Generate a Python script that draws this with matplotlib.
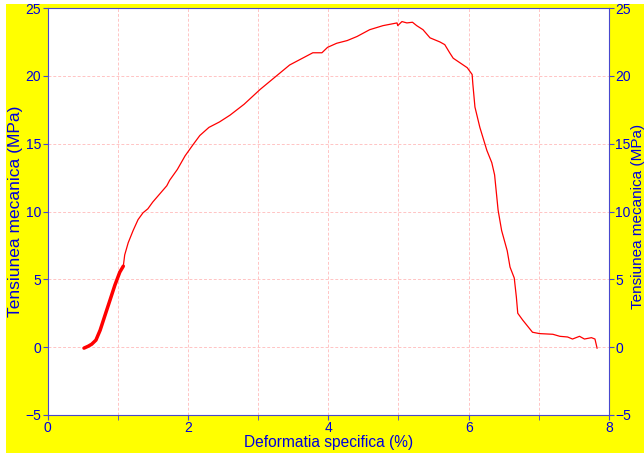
import matplotlib.pyplot as plt
from matplotlib.ticker import MultipleLocator

# first loading portion (drawn thick)
strain_a = [0.52, 0.55, 0.58, 0.63, 0.69, 0.75, 0.82, 0.89, 0.96, 1.03, 1.08]
stress_a = [-0.07, 0.0, 0.07, 0.22, 0.52, 1.25, 2.36, 3.46, 4.57, 5.53, 5.97]

# rest of the test
strain_b = [1.08, 1.1, 1.15, 1.22, 1.29, 1.36, 1.43, 1.5, 1.6, 1.7, 1.74, 1.85,
            1.96, 2.07, 2.17, 2.3, 2.45, 2.6, 2.8, 3.03, 3.24, 3.45, 3.67, 3.78,
            3.91, 3.99, 4.12, 4.27, 4.41, 4.59, 4.78, 4.98, 4.99, 5.05, 5.12, 5.2,
            5.26, 5.35, 5.45, 5.59, 5.66, 5.73, 5.78, 5.98, 6.05, 6.06, 6.09, 6.16,
            6.26, 6.33, 6.37, 6.42, 6.47, 6.55, 6.59, 6.65, 6.68, 6.7, 6.77, 6.91,
            7.01, 7.2, 7.3, 7.41, 7.48, 7.58, 7.65, 7.75, 7.8, 7.83]
stress_b = [5.97, 6.8, 7.7, 8.6, 9.4, 9.9, 10.2, 10.7, 11.3, 11.9, 12.3, 13.1,
            14.1, 14.9, 15.6, 16.2, 16.6, 17.1, 17.9, 19.0, 19.9, 20.8, 21.4, 21.7,
            21.7, 22.1, 22.4, 22.6, 22.9, 23.4, 23.7, 23.9, 23.7, 24.0, 23.9, 23.95,
            23.7, 23.4, 22.8, 22.5, 22.3, 21.7, 21.3, 20.6, 20.1, 19.4, 17.7, 16.2,
            14.5, 13.6, 12.7, 10.1, 8.6, 7.1, 5.9, 5.1, 3.7, 2.5, 2.0, 1.1,
            1.0, 0.95, 0.8, 0.75, 0.6, 0.8, 0.6, 0.7, 0.6, -0.07]

blue = '#0000dd'
spine_col = '#4848cc'
grid_col = '#ffc4c4'

plt.rcParams['font.family'] = ['Liberation Sans', 'DejaVu Sans']

fig = plt.figure(figsize=(6.44, 4.57), dpi=100, facecolor='white')
# yellow panel behind the axes
bg = fig.add_axes([6 / 644, 4 / 457, 638 / 644, 449 / 457])
bg.set_facecolor('#ffff00')
bg.set_xticks([])
bg.set_yticks([])
for s in bg.spines.values():
    s.set_visible(False)

ax = fig.add_axes([47.5 / 644, 1 - 415 / 457, (609 - 47.5) / 644, (415 - 8) / 457])
ax.set_facecolor('white')
ax.plot(strain_a, stress_a, color='red', lw=2.5, solid_capstyle='round')
ax.plot(strain_b, stress_b, color='red', lw=0.9)

ax.set_xlim(0, 8)
ax.set_ylim(-5, 25)
ax.xaxis.set_major_locator(MultipleLocator(2))
ax.xaxis.set_minor_locator(MultipleLocator(1))
ax.yaxis.set_major_locator(MultipleLocator(5))
ax.grid(True, which='both', color=grid_col, ls=(0, (3, 2)), lw=0.7)
ax.set_axisbelow(True)

for s in ax.spines.values():
    s.set_color(spine_col)
ax.tick_params(which='both', colors=spine_col, labelcolor=blue, labelsize=10,
               direction='out', length=3.5, pad=1,
               right=True, labelright=True)

ax.set_xlabel('Deformatia specifica (%)', color=blue, fontsize=11.2, labelpad=0)
ax.set_ylabel('Tensiunea mecanica (MPa)', color=blue, fontsize=12.5, labelpad=2)
fig.text(638 / 644, 1 - 216 / 457, 'Tensiunea mecanica (MPa)', color=blue,
         fontsize=11, rotation=90, ha='center', va='center')

fig.savefig('out.png', dpi=100, facecolor='white')
